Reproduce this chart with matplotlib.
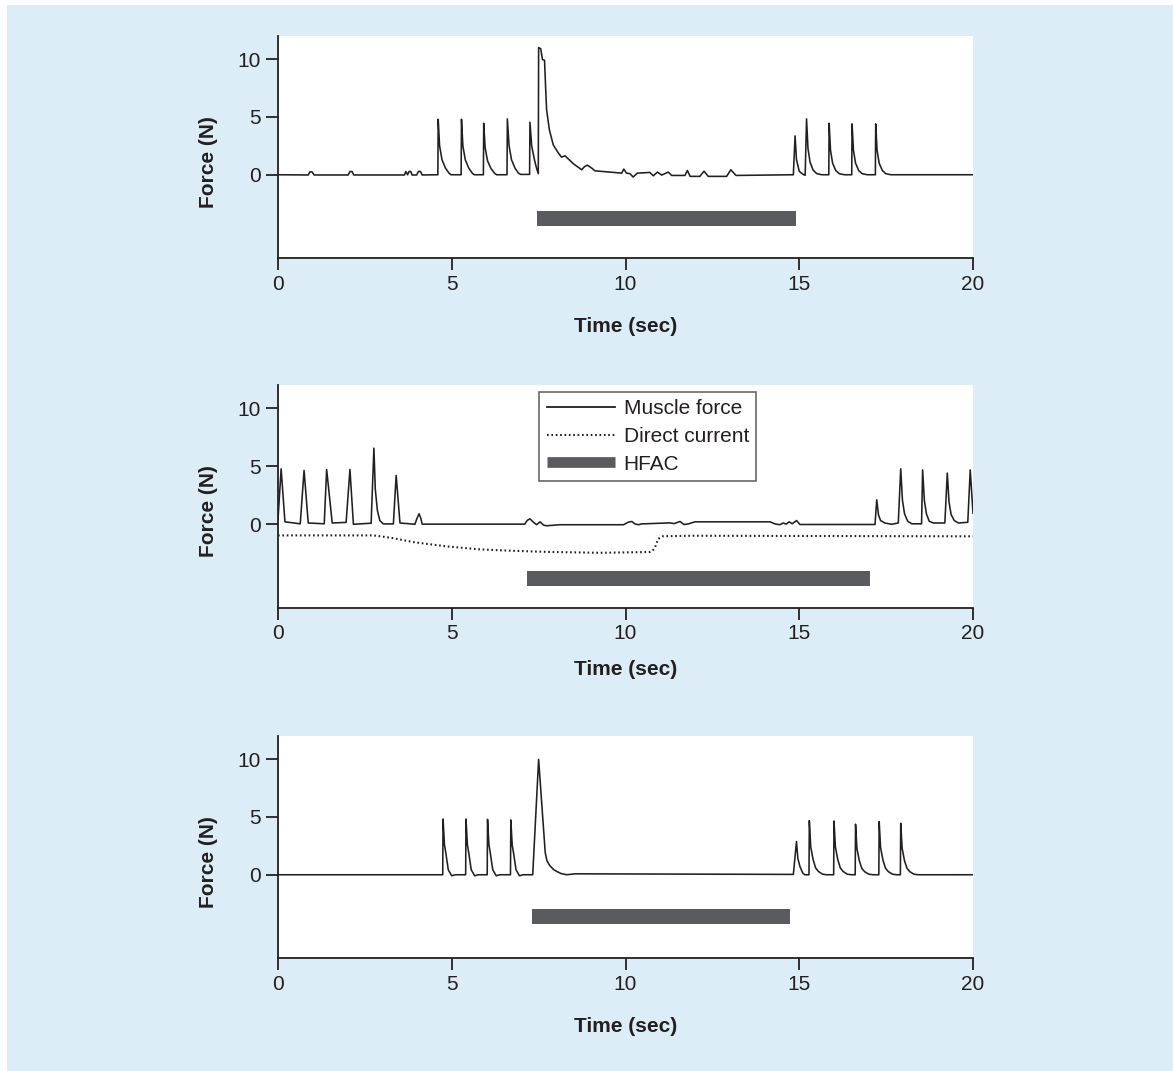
import matplotlib
matplotlib.use("Agg")
import matplotlib.pyplot as plt
from matplotlib.lines import Line2D
from matplotlib.patches import Rectangle

plt.rcParams['font.family'] = ['Liberation Sans', 'DejaVu Sans']

# panel A: muscle force (time sec, force N)
t1 = [0.0, 0.87, 0.92, 0.98, 1.04, 2.02, 2.07, 2.13, 2.18,
      3.64, 3.68, 3.73, 3.77, 3.82, 3.86, 3.99, 4.04, 4.1, 4.15, 4.6,
      4.61, 4.65, 4.72, 4.82, 4.92, 4.98, 5.27,
      5.28, 5.32, 5.39, 5.49, 5.59, 5.65, 5.91,
      5.92, 5.96, 6.03, 6.13, 6.23, 6.29, 6.59,
      6.6, 6.65, 6.72, 6.82, 6.92, 6.98, 7.24,
      7.25, 7.3, 7.38, 7.44, 7.49,
      7.5, 7.56, 7.61, 7.67, 7.7, 7.73, 7.81, 7.92, 8.07, 8.16, 8.26, 8.36,
      8.5, 8.74, 8.82, 8.9, 9.03, 9.12, 9.89, 9.95, 10.03, 10.13, 10.22,
      10.34, 10.7, 10.8, 10.92, 11.04, 11.23, 11.33, 11.71, 11.78, 11.86,
      12.14, 12.26, 12.38, 12.91, 13.03, 13.18, 14.83,
      14.88, 14.92, 15.0, 15.1, 15.17,
      15.21, 15.25, 15.31, 15.4, 15.5, 15.65, 15.85,
      15.86, 15.9, 15.96, 16.05, 16.15, 16.3, 16.51,
      16.52, 16.56, 16.62, 16.71, 16.81, 16.96, 17.19,
      17.2, 17.24, 17.3, 17.39, 17.49, 17.64, 20.0]
f1 = [0.0, -0.02, 0.25, 0.25, -0.02, -0.02, 0.28, 0.28, -0.02,
      -0.02, 0.28, 0.0, 0.28, 0.28, -0.02, -0.02, 0.28, 0.28, -0.02, 0.0,
      4.8, 2.5, 1.29, 0.57, 0.14, 0.0, 0.0,
      4.8, 2.5, 1.29, 0.57, 0.14, 0.0, 0.0,
      4.45, 2.35, 1.2, 0.53, 0.13, 0.0, 0.0,
      4.83, 2.5, 1.29, 0.57, 0.14, 0.03, 0.03,
      4.54, 2.5, 1.29, 0.57, 0.09,
      11.0, 10.9, 9.97, 9.9, 7.6, 5.6, 3.88, 2.59, 1.87, 1.52, 1.64, 1.35,
      0.95, 0.43, 0.7, 0.83, 0.57, 0.34, 0.14, 0.49, 0.14, 0.09, -0.2,
      0.14, 0.2, -0.09, 0.23, -0.03, 0.23, -0.06, -0.06, 0.37, -0.14,
      -0.14, 0.31, -0.14, -0.14, 0.43, -0.06, 0.0,
      3.36, 1.3, 0.3, 0.05, -0.05,
      4.83, 2.3, 1.1, 0.4, 0.1, 0.0, 0.0,
      4.45, 2.1, 1.0, 0.37, 0.09, 0.0, 0.0,
      4.4, 2.1, 1.0, 0.37, 0.09, 0.0, 0.0,
      4.4, 2.1, 1.0, 0.37, 0.09, 0.0, 0.0]

# panel B: muscle force and direct current
t2 = [0.0, 0.09, 0.2, 0.64, 0.75, 0.87, 1.33, 1.4, 1.56, 1.96, 2.07, 2.17, 2.68,
      2.76, 2.8, 2.86, 2.93, 3.03, 3.32, 3.4, 3.51, 3.94,
      4.0, 4.06, 4.11, 4.15,
      7.1, 7.17, 7.25, 7.35, 7.44, 7.54, 7.64, 7.73, 8.11,
      9.94, 9.99, 10.08, 10.18, 10.27, 10.37, 10.46, 10.56, 11.27, 11.4,
      11.57, 11.68, 11.81, 11.9, 12.0,
      14.16, 14.3, 14.44, 14.54, 14.62, 14.71, 14.8, 14.92, 15.02,
      17.18, 17.23, 17.28, 17.34, 17.47, 17.66, 17.85,
      17.92, 17.97, 18.03, 18.12, 18.24, 18.52,
      18.55, 18.6, 18.66, 18.74, 18.86, 19.19,
      19.26, 19.31, 19.37, 19.46, 19.58, 19.85,
      19.92, 20.0]
f2 = [0.4, 4.77, 0.2, 0.03, 4.63, 0.1, 0.03, 4.71, 0.1, 0.15, 4.71, -0.01, 0.08,
      6.55, 3.0, 1.18, 0.31, 0.02, 0.02, 4.2, 0.1, -0.01,
      0.5, 0.89, 0.5, 0.0,
      0.0, 0.32, 0.46, 0.17, -0.05, 0.2, -0.08, -0.14, -0.05,
      -0.05, 0.02, 0.17, 0.23, 0.02, -0.05, 0.02, 0.03, 0.11, 0.05,
      0.23, -0.03, 0.02, 0.11, 0.2,
      0.2, 0.02, -0.05, 0.1, 0.0, 0.2, 0.03, 0.31, -0.03,
      -0.03, 2.1, 0.8, 0.31, 0.09, -0.01, 0.1,
      4.77, 2.04, 0.89, 0.25, 0.03, 0.03,
      4.68, 2.04, 0.89, 0.25, 0.1, 0.1,
      4.4, 1.9, 0.83, 0.31, 0.1, 0.16,
      4.68, 0.95]

t_dc = [0.0, 2.75, 3.3, 3.9, 4.86, 5.82, 6.78, 7.74, 9.27, 10.7, 10.78,
        10.85, 10.94, 11.08, 11.95, 20.0]
f_dc = [-0.97, -0.97, -1.2, -1.55, -1.92, -2.18, -2.3, -2.39, -2.47, -2.4, -2.3,
        -2.0, -1.27, -1.04, -1.0, -1.05]

# panel C: muscle force
t3 = [0.0, 4.74, 4.75, 4.79, 4.83, 4.9, 5.0, 5.1, 5.4,
      5.41, 5.45, 5.49, 5.56, 5.66, 5.76, 6.02,
      6.03, 6.07, 6.11, 6.18, 6.28, 6.38, 6.69,
      6.7, 6.74, 6.78, 6.85, 6.95, 7.05, 7.33,
      7.5, 7.69, 7.74, 7.82, 7.93, 8.02, 8.15, 8.31, 8.54, 14.83,
      14.92, 14.96, 15.02, 15.1, 15.16, 15.28,
      15.29, 15.33, 15.4, 15.47, 15.55, 15.67, 15.79, 15.99,
      16.0, 16.04, 16.11, 16.18, 16.26, 16.38, 16.5, 16.61,
      16.62, 16.66, 16.73, 16.8, 16.88, 17.0, 17.12, 17.29,
      17.3, 17.34, 17.41, 17.48, 17.56, 17.68, 17.8, 17.91,
      17.92, 17.96, 18.03, 18.1, 18.18, 18.3, 18.42, 20.0]
f3 = [0.0, 0.0, 4.82, 2.6, 1.87, 0.43, -0.09, 0.0, 0.0,
      4.82, 2.6, 1.87, 0.43, -0.09, 0.0, 0.0,
      4.79, 2.6, 1.87, 0.43, -0.09, 0.0, 0.0,
      4.74, 2.55, 1.85, 0.43, -0.09, 0.0, 0.0,
      9.97, 1.9, 1.2, 0.8, 0.45, 0.29, 0.1, 0.0, 0.08, 0.03,
      2.87, 1.4, 0.71, 0.15, 0.0, 0.0,
      4.68, 2.4, 1.3, 0.6, 0.29, 0.05, 0.0, 0.0,
      4.65, 2.4, 1.3, 0.6, 0.29, 0.05, 0.0, 0.0,
      4.37, 2.25, 1.2, 0.55, 0.27, 0.05, 0.0, 0.0,
      4.6, 2.35, 1.25, 0.58, 0.28, 0.05, 0.0, 0.0,
      4.45, 2.3, 1.2, 0.56, 0.27, 0.05, 0.0, 0.0]

# HFAC on/off times (sec) and bar level (N) per panel
hfac_on = [7.45, 7.17, 7.31]
hfac_off = [14.9, 17.04, 14.73]
hfac_y = [-3.78, -4.68, -3.6]

ink = '#231f20'
bar_col = '#5a5b5f'
bg = '#ddedf8'

fig = plt.figure(figsize=(11.73, 10.71), dpi=100, facecolor='white')
fig.patches.append(Rectangle((7 / 1173, 0), 1 - 7 / 1173, 1 - 5 / 1071,
                             transform=fig.transFigure, facecolor=bg,
                             edgecolor='none', zorder=-10))

boxes = [[0.2370, 0.7591, 0.5925, 0.2073],
         [0.2370, 0.4326, 0.5925, 0.2080],
         [0.2370, 0.1055, 0.5925, 0.2073]]
traces = [(t1, f1), (t2, f2), (t3, f3)]
xlab_y = [-0.265, -0.235, -0.265]

for i in range(3):
    ax = fig.add_axes(boxes[i])
    ax.set_facecolor('white')
    t, f = traces[i]
    ax.plot(t, f, color=ink, lw=1.15)
    if i == 1:
        ax.plot(t_dc, f_dc, color=ink, lw=1.5, linestyle=(0, (0.8, 1.3)))
    ax.barh(hfac_y[i], hfac_off[i] - hfac_on[i], left=hfac_on[i], height=1.35,
            color=bar_col)

    ax.set_xlim(0, 20)
    ax.set_ylim(-7.2, 12)
    ax.set_xticks([0, 5, 10, 15, 20])
    ax.set_yticks([0, 5, 10])
    for s in ['top', 'right']:
        ax.spines[s].set_visible(False)
    for s in ['left', 'bottom']:
        ax.spines[s].set_linewidth(1.3)
        ax.spines[s].set_color(ink)
    ax.tick_params(axis='both', direction='out', length=8.6, width=1.3,
                   color=ink, labelsize=15, labelcolor=ink)
    ax.tick_params(axis='x', pad=3.5)
    ax.tick_params(axis='y', pad=3.5)

    ax.set_xlabel('Time (sec)', fontsize=15, fontweight='bold', color=ink)
    ax.set_ylabel('Force (N)', fontsize=15, fontweight='bold', color=ink)
    ax.xaxis.set_label_coords(0.5, xlab_y[i])
    ax.yaxis.set_label_coords(-0.087, 0.434)

    if i == 1:
        handles = [Line2D([], [], color=ink, lw=1.3),
                   Line2D([], [], color=ink, lw=1.5, linestyle=(0, (0.8, 1.3))),
                   Line2D([], [], color=bar_col, lw=7.7, solid_capstyle='butt')]
        leg = ax.legend(handles, ['Muscle force', 'Direct current', 'HFAC'],
                        loc='upper left', bbox_to_anchor=(0.376, 0.969),
                        borderaxespad=0, fontsize=15, frameon=True,
                        fancybox=False, edgecolor='#333333',
                        handlelength=3.3, handletextpad=0.4,
                        labelspacing=0.42, borderpad=0.35)
        leg.get_frame().set_linewidth(1.1)
        for txt in leg.get_texts():
            txt.set_color(ink)

fig.savefig('out.png', dpi=100, facecolor=fig.get_facecolor())
